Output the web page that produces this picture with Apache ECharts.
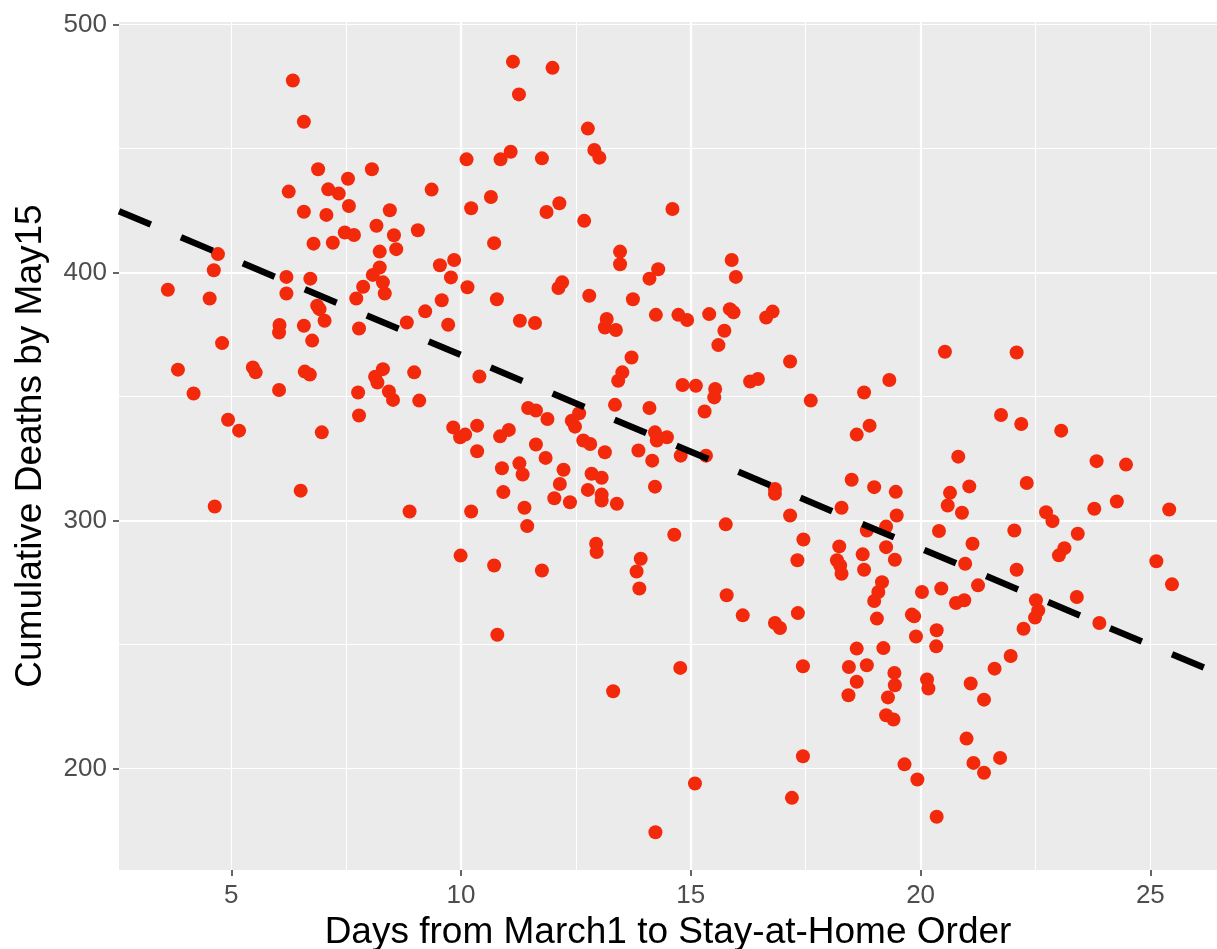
<!DOCTYPE html>
<html>
<head>
<meta charset="utf-8">
<title>Cumulative Deaths by May15</title>
<script src="https://cdn.jsdelivr.net/npm/echarts@6/dist/echarts.min.js"></script>
<style>
  html, body { margin: 0; padding: 0; background: #fff; }
  #chart { width: 1217px; height: 949px; }
</style>
</head>
<body>
<div id="chart"></div>
<script>
// days from March 1 to the stay-at-home order (x) and deaths by May 15 (y), one entry per point
const days = [
  6.34, 6.58, 6.89, 8.06, 7.54, 6.25, 7.11, 7.34, 6.58, 7.07, 7.56, 8.45, 8.16, 8.54, 7.47, 7.67, 7.21, 6.79, 8.23, 8.59,
  4.71, 4.62, 3.62, 4.53, 6.20, 6.72, 6.20, 8.23, 8.08, 7.87, 8.30, 8.34, 7.72,
  11.13, 11.99, 11.26, 12.76, 12.90, 13.01, 10.12, 10.86, 11.08, 11.76, 9.36, 10.65, 10.22, 11.86, 12.14, 12.68, 14.60,
  9.06, 10.72, 9.54, 9.85, 9.78, 10.14, 9.58, 10.78, 13.46, 13.46, 14.29, 14.10, 12.12, 12.20, 12.79, 13.74,
  15.89, 15.98,
  6.87, 6.92, 7.03, 6.05, 6.04, 6.58, 6.76, 7.78, 4.80, 3.84, 5.47, 5.53, 6.60, 6.71, 8.30, 8.13, 8.18, 4.18, 6.04, 7.76,
  8.43, 8.52, 7.78, 4.93, 5.17, 6.97, 6.51, 4.64,
  9.22, 8.82, 9.72, 11.28, 11.61, 13.17, 13.13, 13.37, 14.24, 13.71, 13.51, 13.42, 8.98, 10.40, 9.09, 13.35, 14.10, 11.46, 11.63, 11.88,
  12.41, 12.48, 12.57, 9.83, 9.98, 10.09, 10.35, 10.85, 11.04, 14.22, 14.26, 14.48, 11.63, 10.35, 12.66, 12.81, 13.13, 13.86, 14.16, 11.84,
  10.89, 11.27, 11.34, 12.23, 12.15, 12.84, 13.06, 12.76, 13.06, 13.06, 13.39, 14.22, 10.92, 12.03, 12.37, 11.38, 11.44, 8.88, 10.22, 12.94,
  12.95, 9.99, 10.72, 11.76, 13.91, 13.82, 13.88,
  14.73, 14.92, 15.40, 15.85, 15.93, 16.64, 16.78, 15.73, 15.60, 17.16, 19.32, 14.82, 15.11, 15.53, 15.51, 16.29, 16.46, 17.61, 18.77, 15.30,
  18.89, 18.61, 14.78, 15.33, 18.50, 18.99, 19.46, 16.83, 16.83, 18.28, 19.48, 17.16, 15.76, 14.64, 19.25, 18.83, 17.45, 18.23, 19.25, 18.74,
  19.44, 17.32, 18.18, 18.25, 18.28, 18.77, 19.16,
  20.53, 22.09, 21.75, 22.19, 23.06, 20.82, 23.83, 24.47, 22.31, 21.06, 20.64, 20.59, 20.90, 24.27, 23.78, 25.41, 22.73, 22.87, 20.40, 22.04,
  23.42, 21.13, 23.13, 23.01, 20.97, 22.09, 25.13, 20.45, 21.25, 25.47,
  10.79, 13.31, 14.23,
  15.78, 16.13, 16.83, 16.94, 17.33, 19.08, 18.99, 19.05, 20.03, 19.81, 19.86, 19.90, 18.61, 19.19, 14.77, 17.44, 18.44, 18.83, 18.61, 18.43,
  19.43, 19.44, 19.29, 19.25, 19.41, 20.14, 20.17, 17.44, 19.65, 19.93, 15.09, 17.20,
  20.77, 20.95, 20.35, 20.34, 22.51, 22.56, 22.49, 22.24, 23.40, 23.89, 21.96, 21.61, 21.09, 21.38, 21.00, 21.15, 21.38, 21.73, 20.35
];
const deaths = [
  477.4, 460.8, 441.6, 441.6, 437.8, 432.6, 433.5, 431.8, 424.5, 423.2, 426.8, 425.1, 418.8, 415.0, 416.1, 415.1, 412.0, 411.6, 408.4, 409.4,
  407.4, 400.9, 393.0, 389.5, 398.2, 397.5, 391.5, 402.0, 399.0, 394.2, 396.0, 391.5, 389.5,
  485.0, 482.5, 471.8, 458.0, 449.4, 446.3, 445.6, 445.6, 448.7, 446.0, 433.4, 430.4, 425.9, 424.4, 427.9, 420.8, 425.6,
  417.0, 411.8, 402.9, 405.0, 398.0, 394.0, 388.8, 389.2, 408.4, 403.3, 401.3, 397.5, 393.7, 396.0, 390.6, 389.2,
  405.0, 398.2,
  386.6, 385.2, 380.5, 378.8, 375.8, 378.5, 372.5, 377.4, 371.5, 360.8, 361.7, 359.7, 360.0, 358.8, 361.0, 357.9, 355.6, 351.2, 352.6, 351.6,
  352.0, 348.6, 342.3, 340.6, 336.2, 335.5, 312.0, 305.6,
  384.3, 379.8, 378.9, 380.5, 379.6, 381.2, 377.8, 376.8, 382.9, 365.7, 359.7, 356.3, 359.7, 358.0, 348.3, 346.6, 345.3, 345.3, 344.3, 340.9,
  340.2, 337.8, 343.2, 337.5, 333.5, 334.6, 338.2, 333.9, 336.5, 335.5, 332.2, 333.5, 330.6, 327.9, 332.2, 330.8, 327.5, 328.2, 324.1, 325.2,
  321.0, 323.0, 318.5, 320.4, 314.7, 318.8, 317.2, 312.3, 310.4, 308.0, 306.7, 313.6, 311.4, 308.9, 307.3, 305.1, 297.7, 303.6, 303.6, 290.6,
  287.2, 285.8, 281.8, 279.8, 284.5, 279.4, 272.5,
  382.9, 380.8, 383.2, 385.2, 383.9, 381.8, 384.2, 376.5, 370.7, 364.1, 356.6, 354.6, 354.3, 353.0, 349.6, 356.0, 357.0, 348.3, 351.6, 343.9,
  338.2, 334.6, 326.1, 326.1, 316.4, 313.4, 311.5, 312.7, 310.7, 305.1, 302.0, 302.0, 298.4, 294.2, 297.5, 295.9, 292.3, 289.5, 289.2, 286.3,
  284.1, 283.9, 283.9, 281.8, 278.5, 280.1, 275.1,
  368.0, 367.7, 342.5, 338.9, 336.2, 325.7, 323.9, 322.5, 315.1, 313.7, 311.1, 306.0, 303.1, 307.6, 304.7, 304.4, 303.3, 299.7, 295.7, 295.9,
  294.6, 290.6, 288.8, 285.9, 282.5, 280.1, 283.5, 272.5, 273.8, 274.2,
  253.9, 231.1, 174.2,
  269.8, 261.7, 258.6, 256.6, 262.6, 271.1, 267.5, 260.4, 271.1, 262.0, 261.3, 253.2, 248.3, 248.5, 240.5, 241.2, 240.9, 241.6, 234.9, 229.5,
  238.5, 233.5, 228.6, 221.4, 219.7, 235.8, 232.2, 204.9, 201.6, 195.5, 193.9, 188.1,
  266.7, 267.8, 255.7, 249.2, 267.8, 263.7, 260.8, 256.3, 269.1, 258.6, 245.3, 240.2, 234.2, 227.7, 212.0, 202.2, 198.2, 204.2, 180.5
];
// fitted trend line, ends at the panel edges
const fitX = [2.557, 26.45];
const fitY = [424.7, 238.4];
const xTicks = [5, 10, 15, 20, 25];
const yTicks = [200, 300, 400, 500];

const xMin = 2.557, xMax = 26.45;
const yMin = 159, yMax = 501;
const font = "'Liberation Sans', Arial, Helvetica, sans-serif";

let myChart = echarts.init(document.getElementById("chart"));

let points = [];
for (let i = 0; i < days.length; i++) {
    points.push([days[i], deaths[i]]);
}
let fitLine = [];
for (let i = 0; i < fitX.length; i++) {
    fitLine.push([fitX[i], fitY[i]]);
}

let option = {
    animation: false,
    backgroundColor: "#ffffff",
    grid: {
        left: 119,
        right: 0,
        top: 22,
        bottom: 79,
        outerBoundsMode: "none",
        show: true,
        backgroundColor: "#EBEBEB",
        borderWidth: 0
    },
    xAxis: [{
        type: "value",
        min: xMin,
        max: xMax,
        minInterval: 5,
        maxInterval: 5,
        name: "Days from March1 to Stay-at-Home Order",
        nameLocation: "middle",
        nameGap: 37,
        nameTextStyle: { color: "#000", fontSize: 37, fontFamily: font, verticalAlign: "top" },
        axisLine: { show: false },
        axisTick: { show: true, customValues: xTicks, length: 6, lineStyle: { color: "#333333", width: 1.5 } },
        axisLabel: { customValues: xTicks, color: "#4D4D4D", fontSize: 26, fontFamily: font, margin: 13 },
        splitLine: { show: true, showMinLine: false, showMaxLine: false, lineStyle: { color: "#ffffff", width: 2.2 } }
    }, {
        // minor grid lines only
        type: "value",
        min: xMin,
        max: xMax,
        minInterval: 2.5,
        maxInterval: 2.5,
        axisLine: { show: false },
        axisTick: { show: false },
        axisLabel: { show: false },
        splitLine: { show: true, showMinLine: false, showMaxLine: false, lineStyle: { color: "#ffffff", width: 1.1 } }
    }],
    yAxis: [{
        type: "value",
        min: yMin,
        max: yMax,
        minInterval: 100,
        maxInterval: 100,
        name: "Cumulative Deaths by May15",
        nameLocation: "middle",
        nameGap: 70,
        nameTextStyle: { color: "#000", fontSize: 37, fontFamily: font },
        axisLine: { show: false },
        axisTick: { show: true, customValues: yTicks, length: 6, lineStyle: { color: "#333333", width: 1.5 } },
        axisLabel: { customValues: yTicks, color: "#4D4D4D", fontSize: 26, fontFamily: font, margin: 12 },
        splitLine: { show: true, showMinLine: false, showMaxLine: false, lineStyle: { color: "#ffffff", width: 2.2 } }
    }, {
        type: "value",
        min: yMin,
        max: yMax,
        minInterval: 50,
        maxInterval: 50,
        axisLine: { show: false },
        axisTick: { show: false },
        axisLabel: { show: false },
        splitLine: { show: true, showMinLine: false, showMaxLine: false, lineStyle: { color: "#ffffff", width: 1.1 } }
    }],
    series: [{
        name: "states",
        type: "scatter",
        xAxisIndex: 0,
        yAxisIndex: 0,
        symbol: "circle",
        symbolSize: 14,
        itemStyle: { color: "#F2290B", opacity: 1 },
        data: points,
        z: 2
    }, {
        name: "fit",
        type: "line",
        xAxisIndex: 0,
        yAxisIndex: 0,
        symbol: "none",
        data: fitLine,
        lineStyle: { color: "#000000", width: 6.5, type: [34.5, 32.7], cap: "butt" },
        z: 3
    }]
};
myChart.setOption(option);
</script>
</body>
</html>
